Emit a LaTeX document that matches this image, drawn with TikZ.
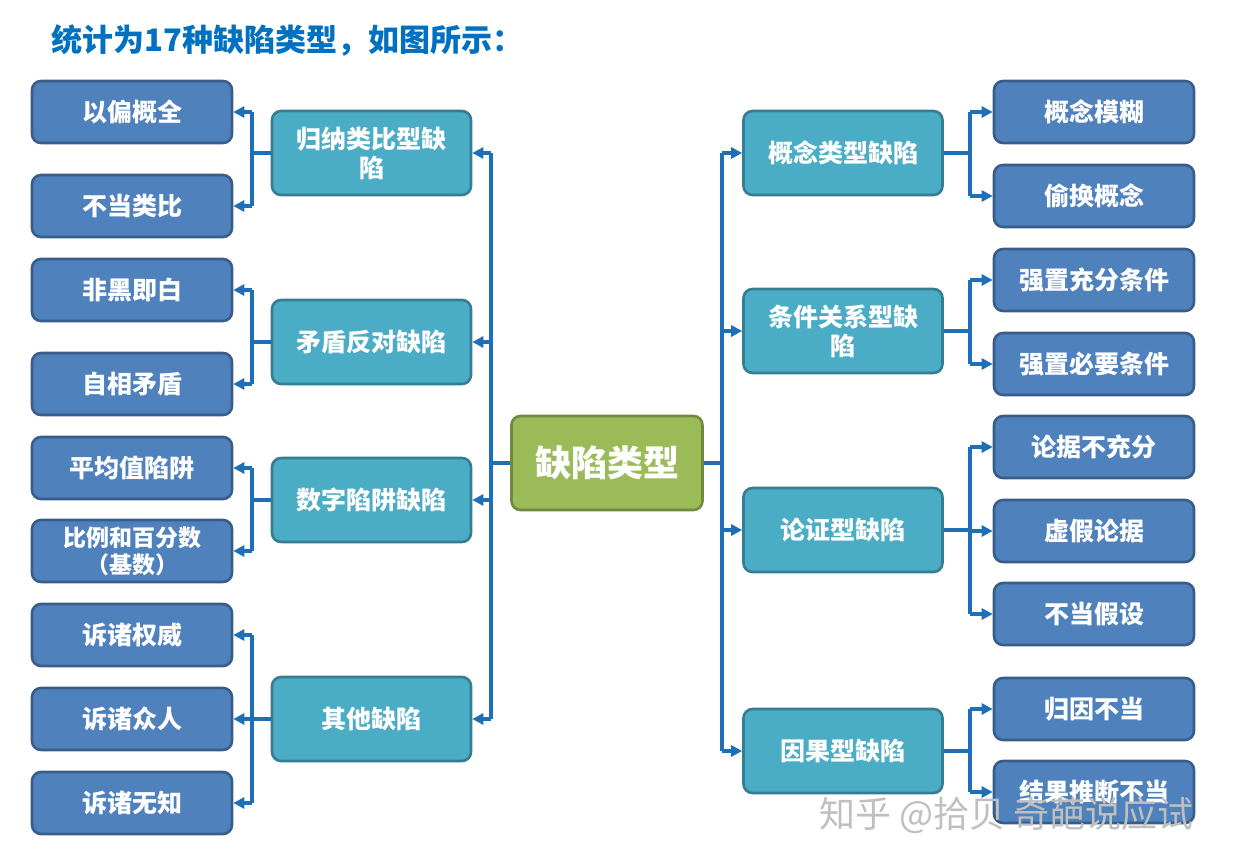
\documentclass[tikz,border=0pt]{standalone}
\usepackage{fontspec}
\setmainfont{Noto Sans CJK SC}
\usetikzlibrary{arrows.meta}
\definecolor{leafc}{HTML}{4F81BD}\definecolor{leafb}{HTML}{385D8A}
\definecolor{midc}{HTML}{4BACC6}\definecolor{midb}{HTML}{357D91}
\definecolor{cenc}{HTML}{9BBB59}\definecolor{cenb}{HTML}{71893F}
\definecolor{linec}{HTML}{1F6EB8}\definecolor{titlec}{HTML}{0070C0}
\begin{document}
\begin{tikzpicture}[x=1pt,y=-1pt,
 box/.style={rounded corners=9pt,line width=2.6pt,text=white,align=center,font=\bfseries\fontsize{25}{29}\selectfont,inner sep=0pt},
 leaf/.style={box,fill=leafc,draw=leafb,minimum width=200pt,minimum height=62pt},
 mid/.style={box,fill=midc,draw=midb,minimum width=199pt,minimum height=84pt},
 cen/.style={box,fill=cenc,draw=cenb,minimum width=191pt,minimum height=94pt,font=\bfseries\fontsize{36}{40}\selectfont},
 con/.style={draw=linec,line width=3.6pt},
 arr/.style={con,-{Triangle[length=11pt,width=11pt]}}]
\useasboundingbox (0,0) rectangle (1234,865);
\node[anchor=west,text=titlec,font=\bfseries\fontsize{31}{34}\selectfont] (title) at (48,40) {统计为17种缺陷类型，如图所示：};
\node[cen] (c) at (607,463) {缺陷类型};
% left mids
\node[mid] (m1) at (371.5,153) {归纳类比型缺\\陷};
\node[mid] (m2) at (371.5,342) {矛盾反对缺陷};
\node[mid] (m3) at (371.5,500) {数字陷阱缺陷};
\node[mid] (m4) at (371.5,719) {其他缺陷};
% right mids
\node[mid] (n1) at (843,153) {概念类型缺陷};
\node[mid] (n2) at (843,331) {条件关系型缺\\陷};
\node[mid] (n3) at (843,530) {论证型缺陷};
\node[mid] (n4) at (843,751) {因果型缺陷};
% left leaves
\foreach \n/\y/\t in {a1/112/以偏概全,a2/206/不当类比,a3/290/非黑即白,a4/384/自相矛盾,a5/468/平均值陷阱,a7/635/诉诸权威,a8/719/诉诸众人,a9/803/诉诸无知}
  \node[leaf] (\n) at (132,\y) {\t};
\node[leaf,font=\bfseries\fontsize{23}{27}\selectfont] (a6) at (132,551) {比例和百分数\\（基数）};
% right leaves
\foreach \n/\y/\t in {b1/112/概念模糊,b2/196/偷换概念,b3/280/强置充分条件,b4/364/强置必要条件,b5/447/论据不充分,b6/531/虚假论据,b7/614/不当假设,b8/709/归因不当,b9/792/结果推断不当}
  \node[leaf] (\n) at (1094,\y) {\t};
% center to mids
\draw[con] (c.west) -- (491,463);
\draw[con] (491,153) -- (491,719);
\foreach \m in {m1,m2,m3,m4} \draw[arr] (491,0 |- \m.east) -- (\m.east);
\draw[con] (c.east) -- (722,463);
\draw[con] (722,153) -- (722,751);
\foreach \m in {n1,n2,n3,n4} \draw[arr] (722,0 |- \m.west) -- (\m.west);
% left mids to leaves
\foreach \m/\p/\q in {m1/a1/a2,m2/a3/a4,m3/a5/a6}{
  \draw[con] (\m.west) -- (252,0 |- \m.west);
  \draw[con] (252,0 |- \p.east) -- (252,0 |- \q.east);
  \draw[arr] (252,0 |- \p.east) -- (\p.east);
  \draw[arr] (252,0 |- \q.east) -- (\q.east);}
\draw[con] (m4.west) -- (252,0 |- m4.west);
\draw[con] (252,0 |- a7.east) -- (252,0 |- a9.east);
\foreach \p in {a7,a8,a9} \draw[arr] (252,0 |- \p.east) -- (\p.east);
% right mids to leaves
\foreach \m/\p/\q in {n1/b1/b2,n2/b3/b4,n4/b8/b9}{
  \draw[con] (\m.east) -- (970,0 |- \m.east);
  \draw[con] (970,0 |- \p.west) -- (970,0 |- \q.west);
  \draw[arr] (970,0 |- \p.west) -- (\p.west);
  \draw[arr] (970,0 |- \q.west) -- (\q.west);}
\draw[con] (n3.east) -- (970,0 |- n3.east);
\draw[con] (970,0 |- b5.west) -- (970,0 |- b7.west);
\foreach \p in {b5,b6,b7} \draw[arr] (970,0 |- \p.west) -- (\p.west);
% watermark
\node[anchor=west,text=black!25,font=\fontsize{36}{40}\selectfont] (wm) at (816,815) {知乎 @拾贝 奇葩说应试};
\end{tikzpicture}
\end{document}
